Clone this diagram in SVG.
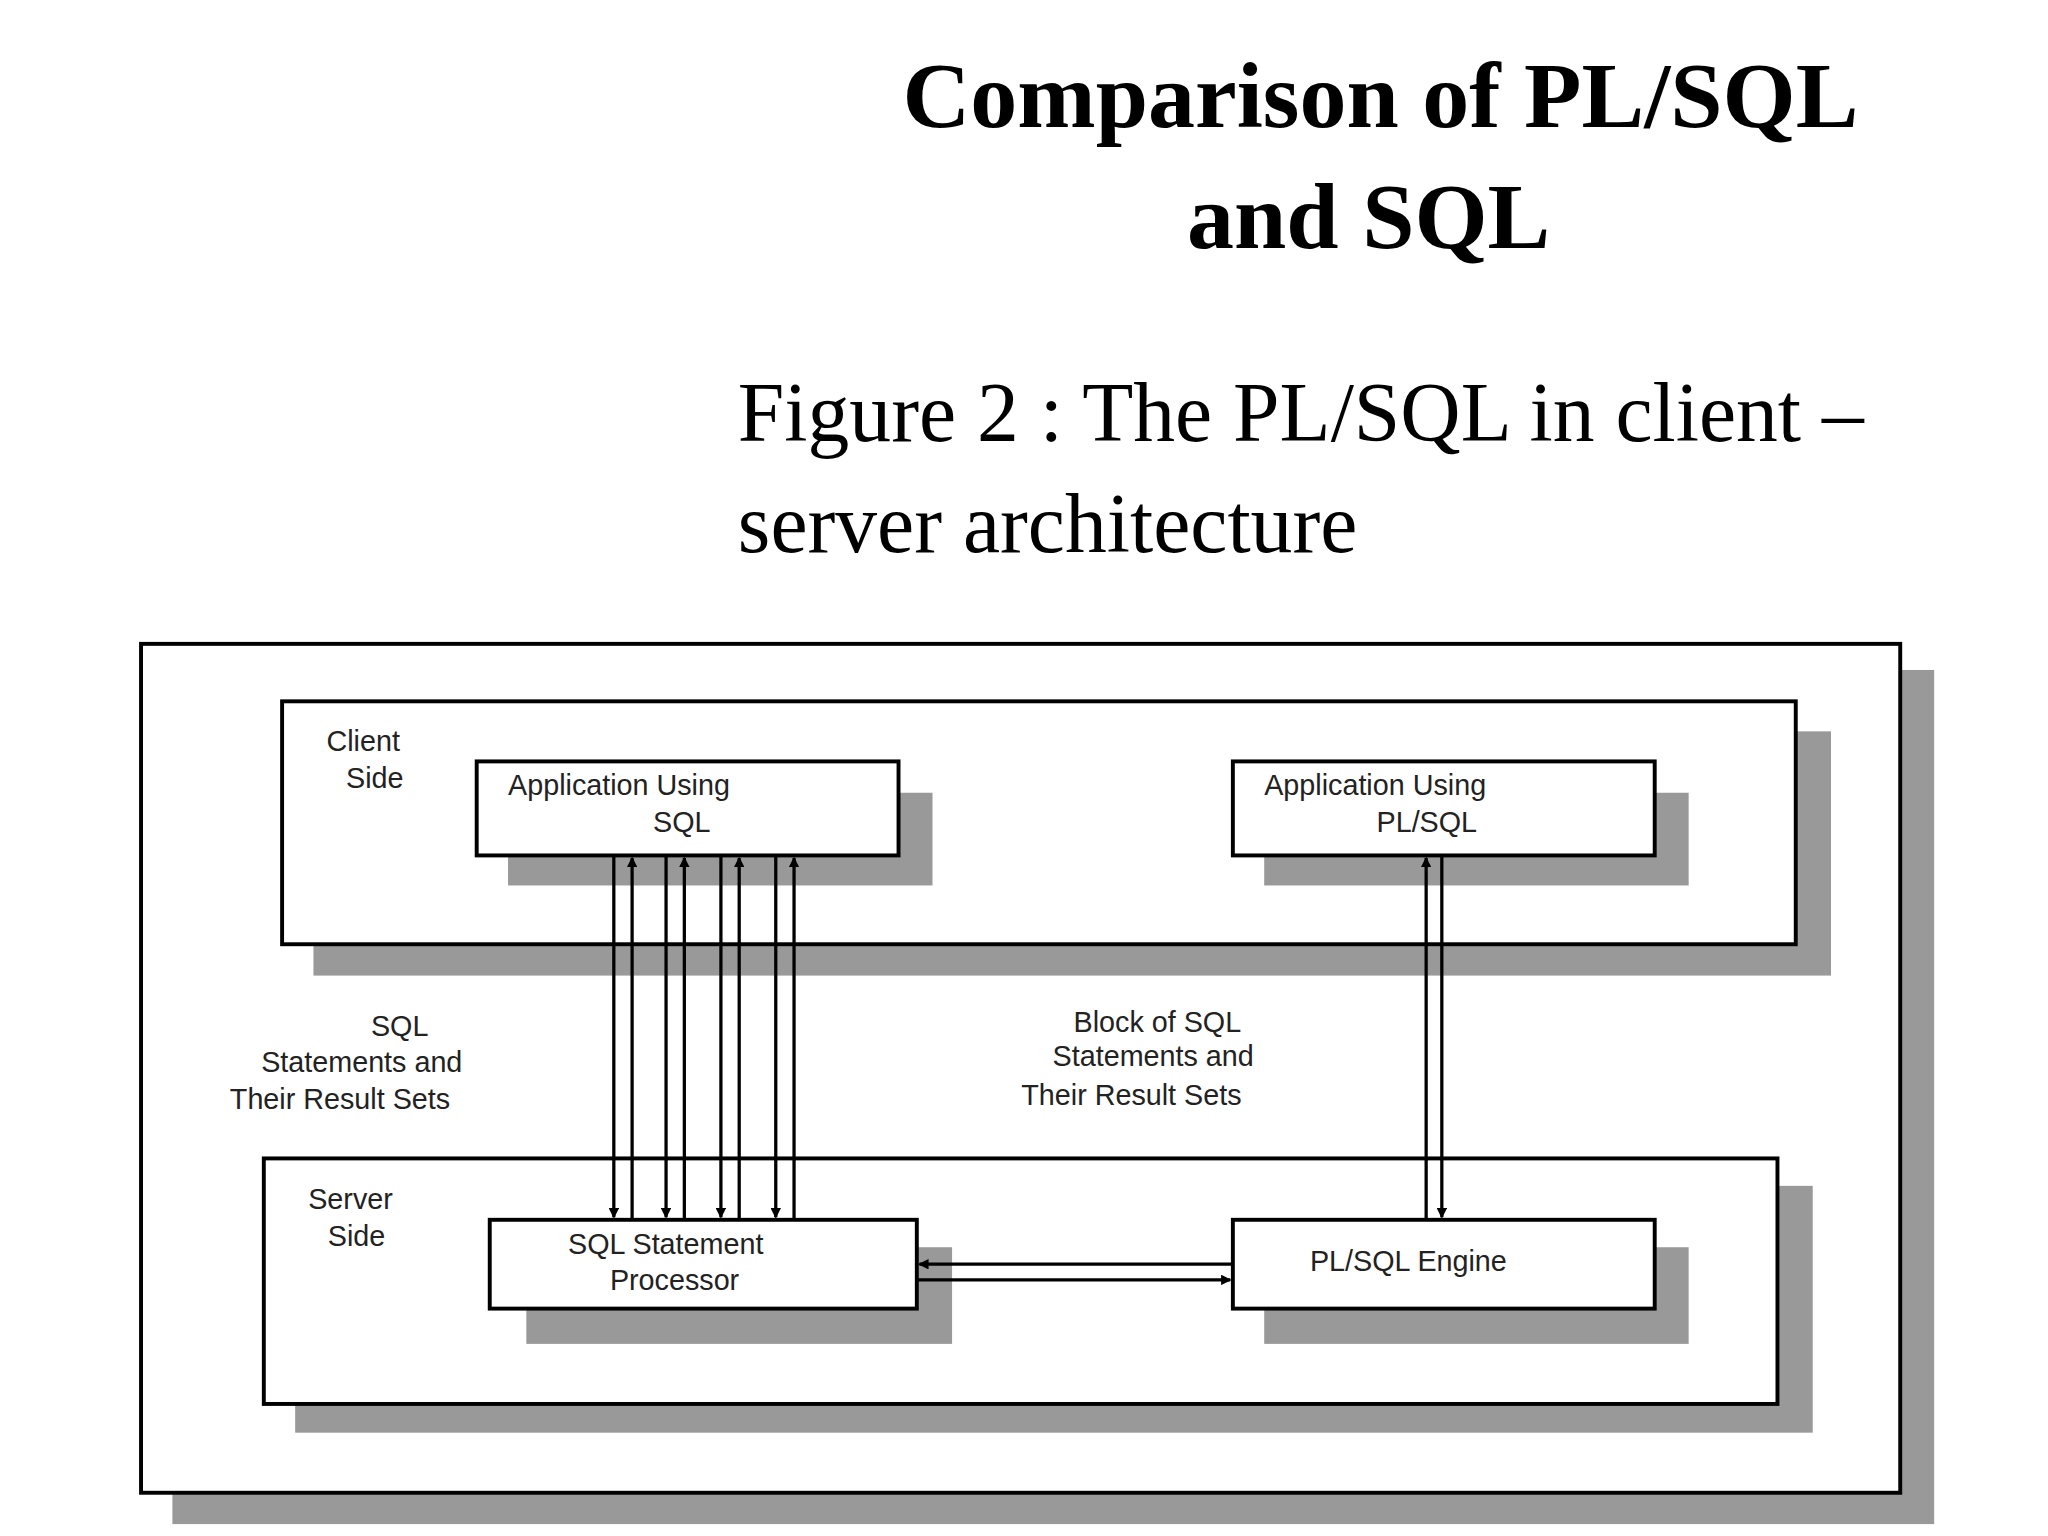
<svg xmlns="http://www.w3.org/2000/svg" width="2048" height="1536" viewBox="0 0 2048 1536">
<style>
.t{font-family:"Liberation Serif",serif}
.s{font-family:"Liberation Sans Narrow","Liberation Sans",sans-serif;font-size:22px;fill:#222}
.b{fill:#fff;stroke:#000;stroke-width:3}
.sh{fill:#999}
.c{stroke:#000;stroke-width:2.5;fill:none}
</style>
<defs>
<marker id="a" markerWidth="8" markerHeight="8" refX="7" refY="4" orient="auto" markerUnits="userSpaceOnUse"><path d="M0,0L8,4L0,8z" fill="#000"/></marker>
</defs>
<rect width="2048" height="1536" fill="#fff"/>
<g transform="scale(1.306)">
<g id="title" class="t" font-weight="bold" font-size="72" text-anchor="middle">
<text x="1057" y="97">Comparison of  PL/SQL</text>
<text x="1048" y="190">and SQL</text>
</g>
<g id="subtitle" class="t" font-size="64">
<text x="565" y="338">Figure 2 : The PL/SQL in client –</text>
<text x="565" y="423">server architecture</text>
</g>
<g id="outer"><rect class="sh" x="132" y="513" width="1349" height="654"/><rect class="b" x="108" y="493" width="1347" height="650"/></g>
<g id="client"><rect class="sh" x="240" y="560" width="1162" height="187"/><rect class="b" x="216" y="537" width="1159" height="186"/>
<text class="s" x="250" y="575">Client</text><text class="s" x="265" y="603">Side</text></g>
<g id="server"><rect class="sh" x="226" y="908" width="1162" height="189"/><rect class="b" x="202" y="887" width="1159" height="188"/>
<text class="s" x="236" y="926">Server</text><text class="s" x="251" y="954">Side</text></g>
<g id="appsql"><rect class="sh" x="389" y="607" width="325" height="71"/><rect class="b" x="365" y="583" width="323" height="72"/>
<text class="s" x="389" y="609">Application Using</text><text class="s" x="500" y="637">SQL</text></g>
<g id="appplsql"><rect class="sh" x="968" y="607" width="325" height="71"/><rect class="b" x="944" y="583" width="323" height="72"/>
<text class="s" x="968" y="609">Application Using</text><text class="s" x="1054" y="637">PL/SQL</text></g>
<g id="proc"><rect class="sh" x="403" y="955" width="326" height="74"/><rect class="b" x="375" y="934" width="327" height="68"/>
<text class="s" x="435" y="960">SQL Statement</text><text class="s" x="467" y="988">Processor</text></g>
<g id="engine"><rect class="sh" x="968" y="955" width="325" height="74"/><rect class="b" x="944" y="934" width="323" height="68"/>
<text class="s" x="1003" y="973">PL/SQL Engine</text></g>
<g id="labels">
<text class="s" x="284" y="793">SQL</text>
<text class="s" x="200" y="821">Statements and</text>
<text class="s" x="176" y="849">Their Result Sets</text>
<text class="s" x="822" y="790">Block of SQL</text>
<text class="s" x="806" y="816">Statements and</text>
<text class="s" x="782" y="846">Their Result Sets</text>
</g>
<g id="connectors" class="c">
<line x1="484" y1="934" x2="484" y2="657" marker-end="url(#a)"/>
<line x1="470" y1="655" x2="470" y2="932" marker-end="url(#a)"/>
<line x1="524" y1="934" x2="524" y2="657" marker-end="url(#a)"/>
<line x1="510" y1="655" x2="510" y2="932" marker-end="url(#a)"/>
<line x1="566" y1="934" x2="566" y2="657" marker-end="url(#a)"/>
<line x1="552" y1="655" x2="552" y2="932" marker-end="url(#a)"/>
<line x1="608" y1="934" x2="608" y2="657" marker-end="url(#a)"/>
<line x1="594" y1="655" x2="594" y2="932" marker-end="url(#a)"/>
<line x1="1092" y1="934" x2="1092" y2="657" marker-end="url(#a)"/>
<line x1="1104" y1="655" x2="1104" y2="932" marker-end="url(#a)"/>
<line x1="944" y1="968" x2="704" y2="968" marker-end="url(#a)"/>
<line x1="702" y1="980" x2="942" y2="980" marker-end="url(#a)"/>
</g>
</g>
</svg>
